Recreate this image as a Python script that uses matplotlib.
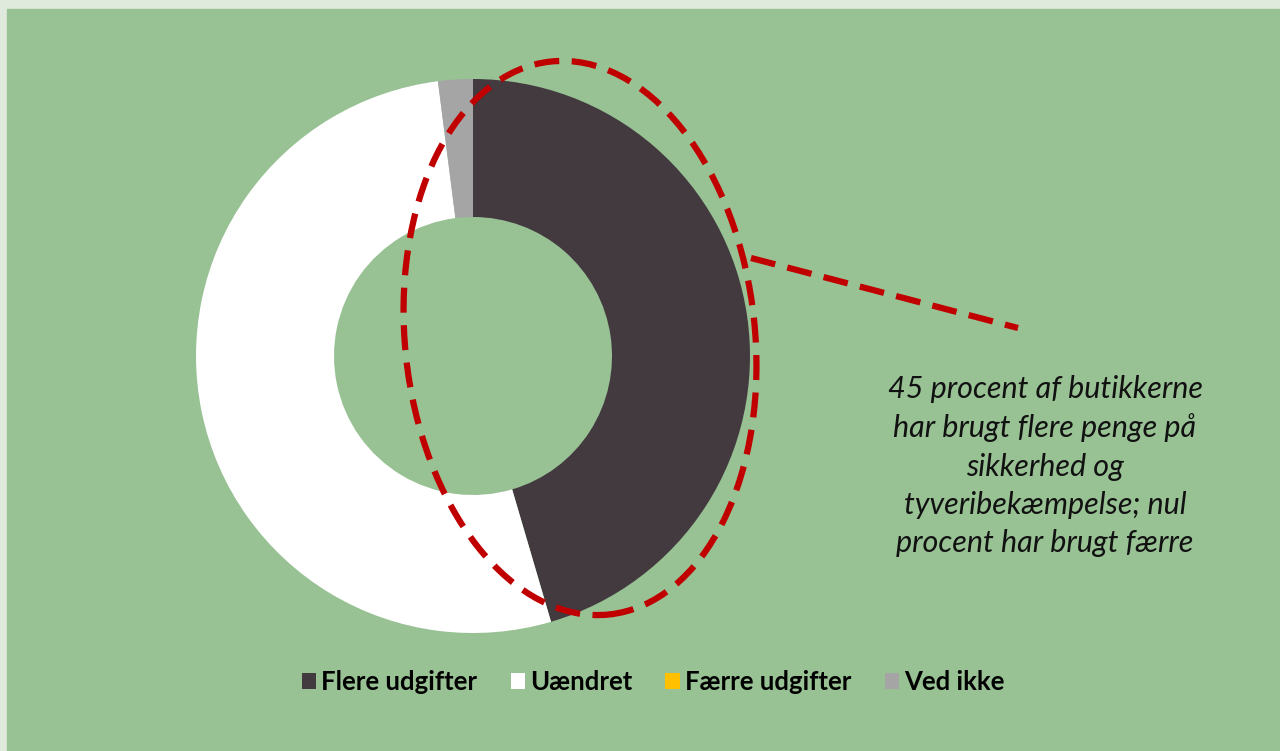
import matplotlib.pyplot as plt
from matplotlib.patches import Ellipse, Rectangle

# data
labels = ['Flere udgifter', 'Uændret', 'Færre udgifter', 'Ved ikke']
values = [45, 52, 0, 2]
colors = ['#433a3f', '#ffffff', '#ffc000', '#a5a5a5']
note = ('45 procent af butikkerne\nhar brugt flere penge på\nsikkerhed og\n'
        'tyveribekæmpelse; nul\nprocent har brugt færre')

W, H = 1280, 751
fig = plt.figure(figsize=(W / 100, H / 100), dpi=100, facecolor='#dfeadd')
ax = fig.add_axes([0, 0, 1, 1])

# green panel
ax.add_patch(Rectangle((7, 0), W - 7, H - 9, color='#98c194', zorder=0))

wedges, _ = ax.pie(values, colors=colors, startangle=90, counterclock=False,
                   center=(473, H - 356), radius=277, frame=True,
                   wedgeprops=dict(width=138, linewidth=0))
ax.set_xlim(0, W)
ax.set_ylim(0, H)
ax.set_aspect('equal')
ax.axis('off')

# red dashed highlight
red = '#c00000'
ax.add_patch(Ellipse((580, H - 338), 350, 556, angle=6, fill=False,
                     edgecolor=red, linewidth=4.5, linestyle=(0, (4, 2)), zorder=5))
ax.plot([751, 1018], [H - 258, H - 328], color=red, linewidth=4.5,
        linestyle=(0, (4, 2)), solid_capstyle='butt', zorder=5)

ax.text(1045, H - 466, note, ha='center', va='center', fontsize=22,
        style='italic', family='Lato', linespacing=1.45, color='#111111')

leg = fig.legend(wedges, labels, loc='center', ncol=4, frameon=False,
                 bbox_to_anchor=(653 / W, 1 - 682 / H),
                 handlelength=0.55, handleheight=0.55, handletextpad=0.2,
                 columnspacing=1.3,
                 prop={'family': 'Lato', 'weight': 'bold', 'size': 18.5})

fig.savefig('out.png', dpi=100, facecolor=fig.get_facecolor())
